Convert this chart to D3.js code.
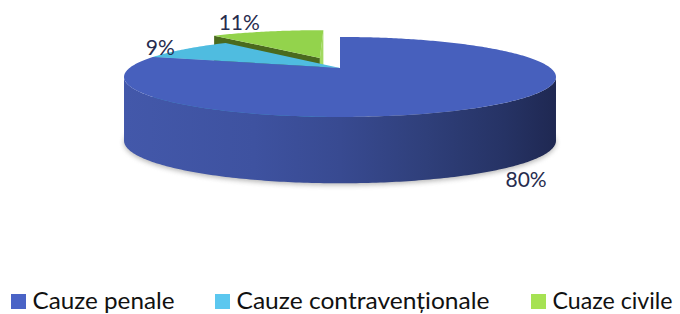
<!DOCTYPE html>
<html>
<head>
<meta charset="utf-8">
<script src="https://cdn.jsdelivr.net/npm/d3@7"></script>
<style>
  body { margin: 0; background: #fff; }
  text { font-family: Lato, "Open Sans", sans-serif; }
</style>
</head>
<body>
<script>
// date
const categories = ["Cauze penale", "Cauze contravenționale", "Cuaze civile"]
const values = [80, 9, 11]
const labels = ["80%", "9%", "11%"]

// stil / pozitii
const topColors = ["#4760bd", "#4fbce0", "#93d34c"]
const startWallColors = ["#3a4d96", "#3fa3c6", "#4a6a1e"]
const endWallColors = ["#3a4d96", "#3fa3c6", "#a2d962"]
const legendColors = ["#4a63c6", "#5bc7ef", "#a6e253"]
const explode = [0, 0, 0.3]
const labelNudge = [[35, 8], [-25, -2], [-28, -9]]
const legendX = [11, 215, 531]
const legendTextW = [142, 253, 120]

const W = 680, H = 314

// proiectie 3D simpla cu perspectiva
const cx = 340, cy = 68, A = 210.5, B = 38, t = 0.224, depth = 63
const camZ = -1 / t

function proj(X, Z, down) {
    const k = 1 + t * Z
    const y = cy - B * Z / k + (down ? depth / (1 + 0.05 * Z) : 0)
    return [cx + A * X / k, y]
}

function arcPts(a0, a1, ox, oz, down) {
    const n = Math.max(2, Math.ceil(Math.abs(a1 - a0) / 0.015))
    const pts = []
    for (let i = 0; i <= n; i++) {
        const a = a0 + (a1 - a0) * i / n
        pts.push(proj(ox + Math.sin(a), oz + Math.cos(a), down))
    }
    return pts
}

const line = d3.line()
const closed = pts => line(pts) + 'Z'

let svg = d3.select('body')
    .append('svg')
    .attr('width', W)
    .attr('height', H)

let defs = svg.append('defs')
let grad = defs.append('linearGradient')
    .attr('id', 'sideBlue')
    .attr('gradientUnits', 'userSpaceOnUse')
    .attr('x1', 124).attr('x2', 556).attr('y1', 0).attr('y2', 0)
grad.selectAll('stop')
    .data([[0, '#4358aa'], [0.3, '#3e52a0'], [0.5, '#384a91'], [0.7, '#2f3f7a'], [0.88, '#263365'], [1, '#1f2852']])
    .enter().append('stop')
    .attr('offset', d => d[0])
    .attr('stop-color', d => d[1])

defs.append('filter')
    .attr('id', 'blur')
    .attr('x', '-10%').attr('y', '-20%').attr('width', '120%').attr('height', '140%')
    .append('feGaussianBlur')
    .attr('stdDeviation', 2.5)

let pie = d3.pie().sort(null).value(d => d)
let arcs = pie(values).map((d, i) => {
    const m = (d.startAngle + d.endAngle) / 2
    return {
        ...d, i, mid: m,
        ox: explode[i] * Math.sin(m),
        oz: explode[i] * Math.cos(m)
    }
})

// umbra
let gPie = svg.append('g')
gPie.append('path')
    .attr('d', closed(arcPts(0, 2 * Math.PI, 0, 0, 1)))
    .attr('transform', 'translate(0,2)')
    .attr('fill', '#7f7f7f')
    .attr('opacity', 0.55)
    .attr('filter', 'url(#blur)')

// ordinea: din spate spre fata
let order = arcs.slice().sort((a, b) => (b.oz + Math.cos(b.mid)) - (a.oz + Math.cos(a.mid)))

const visLo = Math.PI / 2 + Math.asin(t)
const visHi = 3 * Math.PI / 2 - Math.asin(t)

order.forEach(s => {
    const g = gPie.append('g')
    const apexT = proj(s.ox, s.oz, 0)
    const apexB = proj(s.ox, s.oz, 1)

    // pereti radiali
    const walls = [
        { a: s.startAngle, n: [-Math.cos(s.startAngle), Math.sin(s.startAngle)], c: startWallColors[s.i] },
        { a: s.endAngle, n: [Math.cos(s.endAngle), -Math.sin(s.endAngle)], c: endWallColors[s.i] }
    ]
    walls.forEach(w => {
        const dot = (0 - s.ox) * w.n[0] + (camZ - s.oz) * w.n[1]
        if (dot <= 1e-6) return
        const X = s.ox + Math.sin(w.a), Z = s.oz + Math.cos(w.a)
        g.append('path')
            .attr('d', closed([apexT, proj(X, Z, 0), proj(X, Z, 1), apexB]))
            .attr('fill', w.c)
    })

    // perete exterior
    const lo = Math.max(s.startAngle, visLo), hi = Math.min(s.endAngle, visHi)
    if (hi > lo) {
        const top = arcPts(lo, hi, s.ox, s.oz, 0)
        const bot = arcPts(lo, hi, s.ox, s.oz, 1).reverse()
        g.append('path')
            .attr('d', closed(top.concat(bot)))
            .attr('fill', s.i === 0 ? 'url(#sideBlue)' : startWallColors[s.i])
    }

    // fata de sus
    g.append('path')
        .attr('d', closed([apexT].concat(arcPts(s.startAngle, s.endAngle, s.ox, s.oz, 0))))
        .attr('fill', topColors[s.i])
})

// etichete
svg.append('g').selectAll('text')
    .data(arcs)
    .enter()
    .append('text')
    .attr('x', d => proj(d.ox + Math.sin(d.mid), d.oz + Math.cos(d.mid), Math.cos(d.mid) < 0)[0] + labelNudge[d.i][0])
    .attr('y', d => proj(d.ox + Math.sin(d.mid), d.oz + Math.cos(d.mid), Math.cos(d.mid) < 0)[1] + labelNudge[d.i][1])
    .attr('dy', '0.36em')
    .attr('text-anchor', 'middle')
    .attr('font-size', 21)
    .attr('fill', '#272c4e')
    .text(d => labels[d.i])

// legenda
let leg = svg.append('g')
    .selectAll('g')
    .data(categories)
    .enter()
    .append('g')
    .attr('transform', (d, i) => `translate(${legendX[i]},294)`)
leg.append('rect')
    .attr('width', 15)
    .attr('height', 15)
    .attr('fill', (d, i) => legendColors[i])
leg.append('text')
    .attr('x', 21.5)
    .attr('y', 15)
    .attr('font-size', 24)
    .attr('fill', '#111')
    .attr('textLength', (d, i) => legendTextW[i])
    .attr('lengthAdjust', 'spacingAndGlyphs')
    .text(d => d)
</script>
</body>
</html>
